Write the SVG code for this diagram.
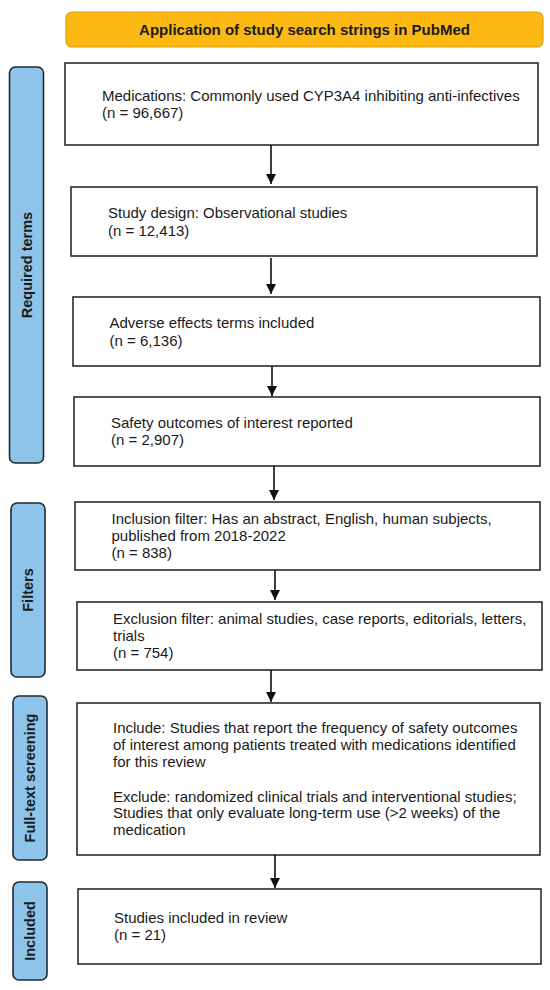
<svg xmlns="http://www.w3.org/2000/svg" width="550" height="990" viewBox="0 0 550 990">
<style>
.box{fill:#fff;stroke:#2b2b2b;stroke-width:1.6}
.side{fill:#8EC4EA;stroke:#1e2a33;stroke-width:1.6}
.t{font-family:"Liberation Sans",Arial,sans-serif;font-size:15px;fill:#1a1a1a}
.b{font-family:"Liberation Sans",Arial,sans-serif;font-size:15px;font-weight:bold;fill:#1a1a1a}
.s{font-family:"Liberation Sans",Arial,sans-serif;font-size:14.5px;font-weight:bold;fill:#1a1a1a}
.c{stroke:#111;stroke-width:1.6;fill:none}
</style>
<defs>
<marker id="ah" viewBox="0 0 10 10" refX="10" refY="5" markerWidth="10" markerHeight="10" markerUnits="userSpaceOnUse" orient="auto">
<path d="M0,0 L10,5 L0,10 z" fill="#111"/>
</marker>
</defs>
<rect width="550" height="990" fill="#fff"/>
<g id="title">
<rect x="66" y="12" width="477" height="35" rx="6" fill="#FDB913" stroke="#E3A008" stroke-width="1.2"/>
<text class="b" x="304.5" y="35" text-anchor="middle">Application of study search strings in PubMed</text>
</g>
<g id="side-required">
<rect class="side" x="9.5" y="67" width="34" height="396" rx="6"/>
<text class="s" transform="translate(32,265) rotate(-90)" text-anchor="middle">Required terms</text>
</g>
<g id="side-filters">
<rect class="side" x="11" y="503" width="34" height="174" rx="6"/>
<text class="s" transform="translate(33,590) rotate(-90)" text-anchor="middle">Filters</text>
</g>
<g id="side-fulltext">
<rect class="side" x="13" y="696" width="34" height="164" rx="6"/>
<text class="s" transform="translate(35,778) rotate(-90)" text-anchor="middle">Full-text screening</text>
</g>
<g id="side-included">
<rect class="side" x="13" y="882" width="34" height="98" rx="6"/>
<text class="s" transform="translate(35,931) rotate(-90)" text-anchor="middle">Included</text>
</g>
<g id="n1">
<rect class="box" x="65" y="63" width="473" height="82"/>
<text class="t" x="102" y="101">Medications: Commonly used CYP3A4 inhibiting anti-infectives</text>
<text class="t" x="102" y="118">(n = 96,667)</text>
</g>
<g id="n2">
<rect class="box" x="71" y="187" width="466" height="69"/>
<text class="t" x="108" y="218">Study design: Observational studies</text>
<text class="t" x="108" y="236">(n = 12,413)</text>
</g>
<g id="n3">
<rect class="box" x="73" y="297" width="467" height="69"/>
<text class="t" x="109.5" y="328">Adverse effects terms included</text>
<text class="t" x="109.5" y="346">(n = 6,136)</text>
</g>
<g id="n4">
<rect class="box" x="74" y="397" width="466" height="69"/>
<text class="t" x="111" y="428">Safety outcomes of interest reported</text>
<text class="t" x="111" y="445">(n = 2,907)</text>
</g>
<g id="n5">
<rect class="box" x="75" y="502" width="465" height="68"/>
<text class="t" x="111.5" y="524">Inclusion filter: Has an abstract, English, human subjects,</text>
<text class="t" x="111.5" y="541">published from 2018-2022</text>
<text class="t" x="111.5" y="558">(n = 838)</text>
</g>
<g id="n6">
<rect class="box" x="77" y="602" width="465" height="68"/>
<text class="t" x="113" y="624">Exclusion filter: animal studies, case reports, editorials, letters,</text>
<text class="t" x="113" y="641">trials</text>
<text class="t" x="113" y="658">(n = 754)</text>
</g>
<g id="n7">
<rect class="box" x="77" y="703" width="463" height="152"/>
<text class="t" x="113" y="733">Include: Studies that report the frequency of safety outcomes</text>
<text class="t" x="113" y="750">of interest among patients treated with medications identified</text>
<text class="t" x="113" y="767">for this review</text>
<text class="t" x="113" y="802">Exclude: randomized clinical trials and interventional studies;</text>
<text class="t" x="113" y="818">Studies that only evaluate long-term use (&gt;2 weeks) of the</text>
<text class="t" x="113" y="835">medication</text>
</g>
<g id="n8">
<rect class="box" x="78" y="889" width="463" height="75"/>
<text class="t" x="114" y="923">Studies included in review</text>
<text class="t" x="114" y="940">(n = 21)</text>
</g>
<g id="connectors">
<line class="c" x1="271" y1="145" x2="271" y2="184" marker-end="url(#ah)"/>
<line class="c" x1="271" y1="258" x2="271" y2="294" marker-end="url(#ah)"/>
<line class="c" x1="272" y1="366" x2="272" y2="396" marker-end="url(#ah)"/>
<line class="c" x1="274" y1="466" x2="274" y2="500" marker-end="url(#ah)"/>
<line class="c" x1="275" y1="570" x2="275" y2="600" marker-end="url(#ah)"/>
<line class="c" x1="271" y1="670" x2="271" y2="702" marker-end="url(#ah)"/>
<line class="c" x1="275" y1="855" x2="275" y2="888" marker-end="url(#ah)"/>
</g>
</svg>
